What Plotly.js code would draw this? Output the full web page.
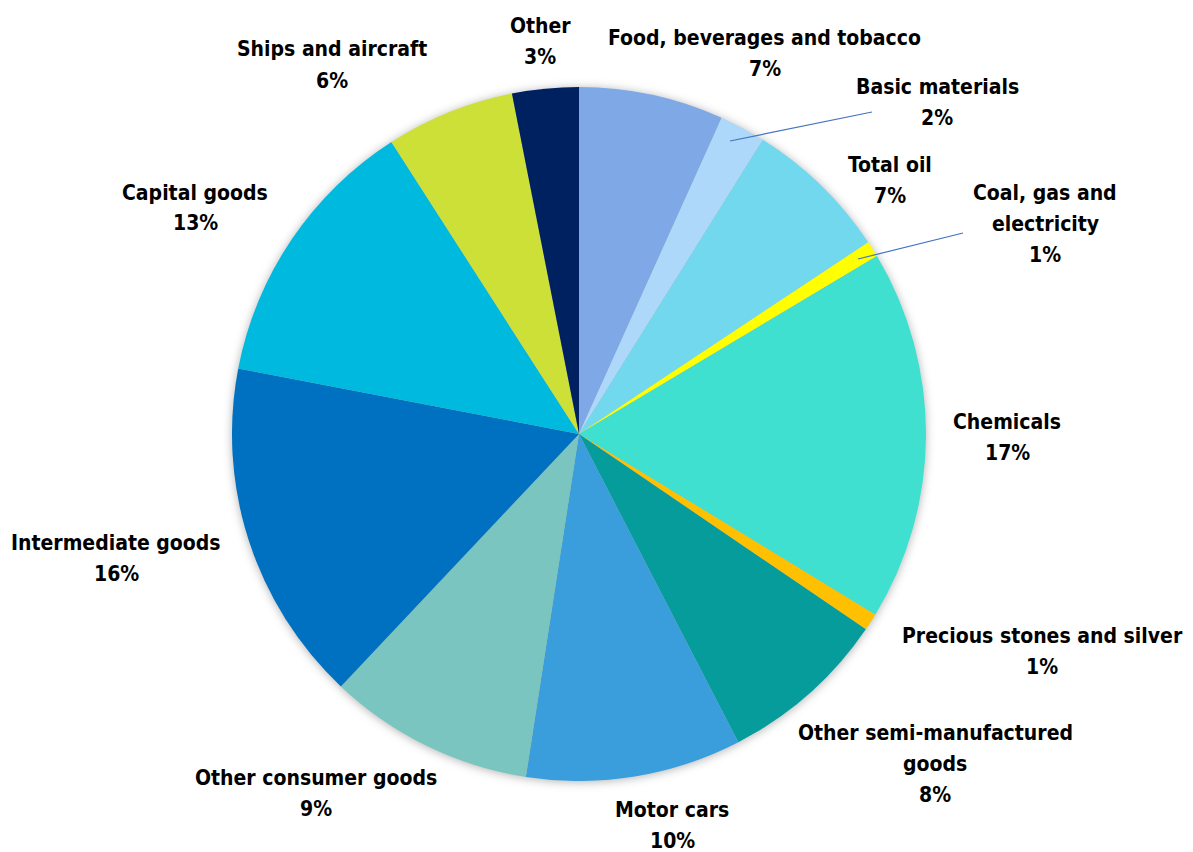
<!DOCTYPE html>
<html>
<head>
<meta charset="utf-8">
<script src="https://cdn.plot.ly/plotly-3.0.1.min.js"></script>
<style>
  html, body { margin: 0; padding: 0; background: #ffffff; }
  #chart { width: 1193px; height: 852px; }
  .pielayer { filter: drop-shadow(0px 1px 5px rgba(0,0,0,0.30)); }
</style>
</head>
<body>
<div id="chart"></div>
<script>
// ---- data ----
const categories = [
  "Food, beverages and tobacco",
  "Basic materials",
  "Total oil",
  "Coal, gas and electricity",
  "Chemicals",
  "Precious stones and silver",
  "Other semi-manufactured goods",
  "Motor cars",
  "Other consumer goods",
  "Intermediate goods",
  "Capital goods",
  "Ships and aircraft",
  "Other"
];
const shares = [6.75, 2.15, 6.8, 0.75, 17.3, 0.8, 7.9, 10.05, 9.6, 16.0, 12.9, 6.0, 3.1];
const shareLabels = ["7%", "2%", "7%", "1%", "17%", "1%", "8%", "10%", "9%", "16%", "13%", "6%", "3%"];
const labelLines = [
  ["Food, beverages and tobacco"],
  ["Basic materials"],
  ["Total oil"],
  ["Coal, gas and", "electricity"],
  ["Chemicals"],
  ["Precious stones and silver"],
  ["Other semi-manufactured", "goods"],
  ["Motor cars"],
  ["Other consumer goods"],
  ["Intermediate goods"],
  ["Capital goods"],
  ["Ships and aircraft"],
  ["Other"]
];

// ---- styling ----
const colors = ["#7FA8E6", "#ADD8FA", "#72D8EE", "#FFFF00", "#40E0D0", "#FFC000",
                "#069C9C", "#3A9EDC", "#7AC5BF", "#0070C0", "#00B9DF", "#CDE038", "#00215F"];
const W = 1193, H = 852;
// label block centre positions in pixels
const labelPos = [
  [765, 54], [937, 102], [890, 180], [1045, 224], [1007, 437], [1042, 651],
  [935, 764], [672, 825], [316, 793], [116, 558], [195, 208], [332, 65], [540, 41]
];
const lineGap = 31;
const leaders = [ [[730, 141], [872, 112]], [[858, 259], [963, 233]] ];
const cx = 579, cy = 434, r = 347;

const FONT = "'Liberation Sans Narrow', 'Arial Narrow', 'DejaVu Sans Condensed', sans-serif";

const trace = {
  type: "pie",
  labels: categories,
  values: shares,
  sort: false,
  direction: "clockwise",
  rotation: 0,
  textinfo: "none",
  hoverinfo: "label+percent",
  marker: { colors: colors, line: { color: "#ffffff", width: 0 } },
  domain: { x: [(cx - r) / W, (cx + r) / W], y: [1 - (cy + r) / H, 1 - (cy - r) / H] },
  showlegend: false
};

const annotations = [];
categories.forEach((c, i) => {
  const lines = labelLines[i].concat([shareLabels[i]]);
  const n = lines.length;
  lines.forEach((t, k) => {
    const py = labelPos[i][1] + (k - (n - 1) / 2) * lineGap;
    annotations.push({
      xref: "paper", yref: "paper",
      x: labelPos[i][0] / W, y: 1 - py / H,
      xanchor: "center", yanchor: "middle",
      text: "<b>" + t + "</b>",
      showarrow: false,
      align: "center",
      font: { family: FONT, size: 21, color: "#000000" }
    });
  });
});

const shapes = leaders.map(l => ({
  type: "line", xref: "paper", yref: "paper",
  x0: l[0][0] / W, y0: 1 - l[0][1] / H, x1: l[1][0] / W, y1: 1 - l[1][1] / H,
  line: { color: "#4472C4", width: 1.2 }
}));

const layout = {
  width: W, height: H,
  margin: { l: 0, r: 0, t: 0, b: 0 },
  paper_bgcolor: "#ffffff",
  plot_bgcolor: "#ffffff",
  annotations: annotations,
  shapes: shapes,
  showlegend: false
};

Plotly.newPlot("chart", [trace], layout, { displayModeBar: false, staticPlot: true });
</script>
</body>
</html>
